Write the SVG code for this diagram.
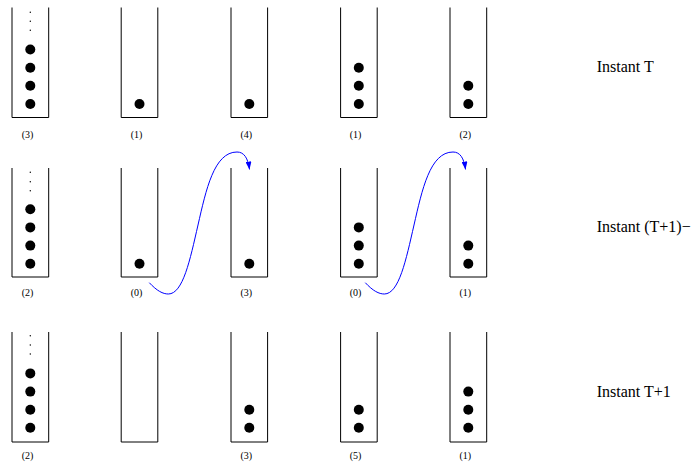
<svg xmlns="http://www.w3.org/2000/svg" width="694" height="463" viewBox="0 0 694 463">
<style>
.tube{fill:none;stroke:#000;stroke-width:1}
.ball{fill:#000}
.dot{fill:#000}
.lbl{font-family:"Liberation Serif","Times New Roman",serif;font-size:10px;fill:#000;text-anchor:middle}
.inst{font-family:"Liberation Serif","Times New Roman",serif;font-size:16px;fill:#000}
.arr{fill:none;stroke:#0000ff;stroke-width:1}
</style>
<defs>
<marker id="ah" markerUnits="userSpaceOnUse" viewBox="0 0 8 6" refX="8" refY="3" markerWidth="8" markerHeight="6" orient="auto">
<path d="M0,0 L8,3 L0,6 z" fill="#0000ff"/>
</marker>
</defs>
<rect width="694" height="463" fill="#fff"/>

<!-- Row 1 -->
<g id="r1c1">
<path class="tube" d="M12,7.5 V117.5 H48.7 V7.5"/>
<circle class="dot" cx="30.3" cy="12.3" r="0.7"/><circle class="dot" cx="30.3" cy="21.3" r="0.7"/><circle class="dot" cx="30.3" cy="30.3" r="0.7"/>
<circle class="ball" cx="30.3" cy="49.5" r="5"/><circle class="ball" cx="30.3" cy="67.7" r="5"/><circle class="ball" cx="30.3" cy="85.8" r="5"/><circle class="ball" cx="30.3" cy="104" r="5"/>
<text class="lbl" x="27.5" y="138">(3)</text>
</g>
<g id="r1c2">
<path class="tube" d="M121.2,7.5 V117.5 H157.8 V7.5"/>
<circle class="ball" cx="139.5" cy="104" r="5"/>
<text class="lbl" x="136.5" y="138">(1)</text>
</g>
<g id="r1c3">
<path class="tube" d="M231,7.5 V117.5 H267.6 V7.5"/>
<circle class="ball" cx="249.3" cy="104" r="5"/>
<text class="lbl" x="246.3" y="138">(4)</text>
</g>
<g id="r1c4">
<path class="tube" d="M340.6,7.5 V117.5 H377.2 V7.5"/>
<circle class="ball" cx="358.8" cy="67.7" r="5"/><circle class="ball" cx="358.8" cy="85.8" r="5"/><circle class="ball" cx="358.8" cy="104" r="5"/>
<text class="lbl" x="355.5" y="138">(1)</text>
</g>
<g id="r1c5">
<path class="tube" d="M450,7.5 V117.5 H486.7 V7.5"/>
<circle class="ball" cx="468.3" cy="85.8" r="5"/><circle class="ball" cx="468.3" cy="104" r="5"/>
<text class="lbl" x="465.3" y="138">(2)</text>
</g>
<text id="t1" class="inst" x="596.7" y="71.7">Instant T</text>

<!-- Row 2 -->
<g id="r2c1">
<path class="tube" d="M12,168 V277 H48.7 V168"/>
<circle class="dot" cx="30.3" cy="172.3" r="0.7"/><circle class="dot" cx="30.3" cy="181.7" r="0.7"/><circle class="dot" cx="30.3" cy="190.7" r="0.7"/>
<circle class="ball" cx="30.3" cy="209.3" r="5"/><circle class="ball" cx="30.3" cy="227.4" r="5"/><circle class="ball" cx="30.3" cy="245.6" r="5"/><circle class="ball" cx="30.3" cy="263.7" r="5"/>
<text class="lbl" x="27.5" y="296">(2)</text>
</g>
<g id="r2c2">
<path class="tube" d="M121.2,168 V277 H157.8 V168"/>
<circle class="ball" cx="139.5" cy="263.7" r="5"/>
<text class="lbl" x="136.5" y="296">(0)</text>
</g>
<g id="r2c3">
<path class="tube" d="M231,168 V277 H267.6 V168"/>
<circle class="ball" cx="249.3" cy="263.7" r="5"/>
<text class="lbl" x="246.3" y="296">(3)</text>
</g>
<g id="r2c4">
<path class="tube" d="M340.6,168 V277 H377.2 V168"/>
<circle class="ball" cx="358.8" cy="227.4" r="5"/><circle class="ball" cx="358.8" cy="245.6" r="5"/><circle class="ball" cx="358.8" cy="263.7" r="5"/>
<text class="lbl" x="355.5" y="296">(0)</text>
</g>
<g id="r2c5">
<path class="tube" d="M450,168 V277 H486.7 V168"/>
<circle class="ball" cx="468.3" cy="245.6" r="5"/><circle class="ball" cx="468.3" cy="263.7" r="5"/>
<text class="lbl" x="465.3" y="296">(1)</text>
</g>
<text id="t2" class="inst" x="596.7" y="231.7">Instant (T+1)−</text>

<!-- Row 3 -->
<g id="r3c1">
<path class="tube" d="M12,332 V442 H48.7 V332"/>
<circle class="dot" cx="30.3" cy="335.7" r="0.7"/><circle class="dot" cx="30.3" cy="345" r="0.7"/><circle class="dot" cx="30.3" cy="354" r="0.7"/>
<circle class="ball" cx="30.3" cy="373.4" r="5"/><circle class="ball" cx="30.3" cy="391.6" r="5"/><circle class="ball" cx="30.3" cy="409.7" r="5"/><circle class="ball" cx="30.3" cy="427.8" r="5"/>
<text class="lbl" x="27.5" y="459">(2)</text>
</g>
<g id="r3c2">
<path class="tube" d="M121.2,332 V442 H157.8 V332"/>
</g>
<g id="r3c3">
<path class="tube" d="M231,332 V442 H267.6 V332"/>
<circle class="ball" cx="249.3" cy="409.7" r="5"/><circle class="ball" cx="249.3" cy="427.8" r="5"/>
<text class="lbl" x="246.3" y="459">(3)</text>
</g>
<g id="r3c4">
<path class="tube" d="M340.6,332 V442 H377.2 V332"/>
<circle class="ball" cx="358.8" cy="409.7" r="5"/><circle class="ball" cx="358.8" cy="427.8" r="5"/>
<text class="lbl" x="355.5" y="459">(5)</text>
</g>
<g id="r3c5">
<path class="tube" d="M450,332 V442 H486.7 V332"/>
<circle class="ball" cx="468.3" cy="391.6" r="5"/><circle class="ball" cx="468.3" cy="409.7" r="5"/><circle class="ball" cx="468.3" cy="427.8" r="5"/>
<text class="lbl" x="465.3" y="459">(1)</text>
</g>
<text id="t3" class="inst" x="596.7" y="396.7">Instant T+1</text>

<g id="connectors">
<path class="arr" marker-end="url(#ah)" d="M149.3,282.7 C157,291 163,294 168.3,294 C183,294 190,260 198,225 C206,190 214,152 237,152 C244,152 248,158 249.5,169.5"/>
<path class="arr" marker-end="url(#ah)" d="M365.3,282.7 C373,291 379,294 384.3,294 C399,294 406,260 414,225 C422,190 430,152 453,152 C460,152 464,158 465.5,169.5"/>
</g>
</svg>
